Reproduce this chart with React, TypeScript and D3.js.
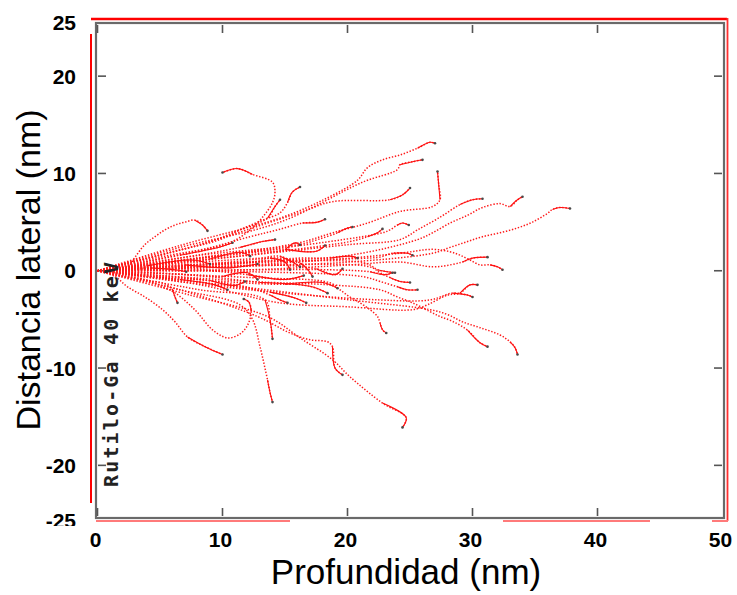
import React from "react";
import * as d3 from "d3";

type P = [number, number];

// Axis ticks
const xTicks = [0, 10, 20, 30, 40, 50];
const yTicks = [25, 20, 10, 0, -10, -20, -25];
const innerXTicks = [0, 10, 20, 30, 40];
const innerYTicks = [20, 10, 0, -10, -20];

// Ion trajectories (depth nm, lateral nm)
const trA: P[] = [[0,0],[6.6,2.6],[14.8,5.5],[18.4,7.5],[20.8,9.3],[21.6,10.6],[22.8,11.4],[24.2,11.9],[25.6,12.6],[26.6,13.2],[27.0,13.1]];
const trB: P[] = [[0,0],[6.6,2.4],[14.6,5.0],[21.2,9.1],[24.0,10.4],[24.2,10.9],[25.2,11.2],[26.0,11.4]];
const trC: P[] = [[0,0],[8.2,2.7],[16.2,6.0],[18.8,7.1],[23.4,7.3],[24.4,7.8],[25.0,8.5]];
const trD: P[] = [[0,0],[8.2,1.3],[16.2,2.9],[18.8,3.9],[21.6,4.9],[24.2,6.1],[26.8,6.6],[27.4,7.3],[27.3,8.8],[27.2,10.2]];
const trE: P[] = [[0,0],[12.2,1.6],[20.2,2.7],[24.2,3.2],[25.6,4.2],[27.4,5.5],[29.0,6.8],[30.0,7.3],[30.8,7.4]];
const trF: P[] = [[0,0],[12.2,0.9],[20.2,1.6],[25.6,3.2],[26.8,3.9],[28.2,4.9],[29.6,5.7],[30.8,6.5],[32.2,6.9],[33.0,6.6],[33.6,7.3],[34.0,7.6]];
const trG: P[] = [[0,0],[12.2,0.5],[20.2,0.9],[26.8,1.8],[28.2,2.4],[29.6,3.0],[30.8,3.5],[32.2,3.9],[33.6,4.4],[34.8,5.0],[36.0,5.9],[36.4,6.3],[37.0,6.5],[37.8,6.4]];
const trH: P[] = [[0,0],[5.0,1.4],[10.6,2.9],[12.2,4.2],[13.2,5.5],[14.0,7.0],[14.2,8.1],[14.0,9.1],[12.4,9.9],[11.2,10.5],[10.0,10.1]];
const trI: P[] = [[0,0],[5.0,1.6],[8.8,2.9],[10.8,3.9],[13.2,5.2],[14.6,5.95],[15.2,7.0],[15.6,8.1],[16.2,8.6]];
const trJ: P[] = [[0,0],[5.8,1.9],[9.8,3.2],[11.4,4.2],[13.6,5.4],[14.2,6.6],[14.6,7.3]];
const trK: P[] = [[0,0],[2.4,0.4],[3.0,1.4],[3.8,2.7],[4.6,3.5],[5.4,4.2],[6.2,4.7],[7.0,5.0],[7.8,5.2],[8.4,4.7],[8.8,4.1]];
const trL: P[] = [[0,0],[8.2,2.1],[12.2,3.5],[14.4,4.2],[16.4,4.9],[17.6,5.0],[18.2,5.3]];
const trM: P[] = [[0,0],[8.2,1.6],[16.2,2.7],[17.6,3.2],[19.2,3.9],[20.0,4.4],[20.4,4.5]];
const trN: P[] = [[0,0],[9.8,1.3],[20.2,3.0],[21.6,3.5],[22.4,3.9],[22.8,4.3]];
const trO: P[] = [[0,0],[12.2,1.9],[22.8,3.9],[23.4,4.2],[24.0,4.7],[24.4,4.9],[24.9,4.7]];
const trP: P[] = [[0,0],[12.2,0.6],[20.2,1.3],[24.2,1.8],[26.8,2.2],[28.2,1.95],[29.0,1.6],[29.8,1.1],[30.6,0.6],[31.4,0.6],[32.0,0.4],[32.4,0.1]];
const trQ: P[] = [[0,0],[12.2,0.1],[20.2,0.6],[24.2,0.9],[26.8,0.4],[28.2,0.6],[29.2,0.9],[30.0,1.3],[31.2,1.4]];
const trR: P[] = [[0,0],[12.2,0.8],[21.6,1.3],[22.6,1.4],[23.6,1.8],[24.8,1.8],[25.2,1.6]];
const trS: P[] = [[0,0],[12.2,0.9],[21.0,0.9],[21.8,0.6],[22.4,0.1],[23.2,-0.1],[23.8,-0.2]];
const trT: P[] = [[0,0],[12.2,0.5],[21.8,0.4],[22.6,-0.2],[23.4,-0.7],[24.2,-1.1],[25.0,-1.2]];
const trU: P[] = [[0,0],[12.2,-0.1],[21.2,-0.6],[22.6,-1.1],[24.0,-1.65],[24.8,-1.96],[25.6,-1.96]];
const trV: P[] = [[0,0],[8.2,-1.45],[14.6,-3.3],[20.0,-3.7],[25.2,-4.0],[26.4,-3.5],[28.0,-2.5],[29.0,-2.3],[29.8,-1.45],[30.4,-1.45]];
const trW: P[] = [[0,0],[12.2,-1.96],[22.6,-3.0],[26.6,-3.0],[28.4,-2.3],[29.6,-2.5],[30.0,-2.7]];
const trX: P[] = [[0,0],[12.2,-1.1],[18.6,-1.45],[22.6,-1.96],[24.0,-2.7],[25.2,-3.3],[26.6,-4.2],[27.4,-4.7],[28.4,-5.2],[29.6,-6.1],[30.6,-7.4],[31.2,-7.8]];
const trY: P[] = [[0,0],[12.2,-1.76],[20.2,-3.0],[26.6,-4.0],[28.0,-4.5],[29.2,-5.25],[30.6,-5.85],[32.2,-6.6],[33.0,-7.3],[33.4,-7.9],[33.6,-8.6]];
const trZ: P[] = [[0,0],[12.2,-0.7],[18.6,-1.24],[19.4,-1.96],[20.2,-2.7],[21.0,-3.3],[21.8,-4.0],[22.4,-4.7],[22.6,-5.35],[22.8,-6.07],[23.1,-6.4]];
const trAA: P[] = [[0,0],[6.6,-1.96],[12.8,-4.7],[15.4,-6.4],[17.0,-7.1],[18.4,-7.3],[18.8,-7.8],[19.0,-10.0],[19.6,-10.7]];
const trAB: P[] = [[0,0],[7.4,-2.5],[13.6,-4.7],[16.2,-6.9],[18.8,-9.15],[20.2,-10.9],[22.8,-13.6],[24.7,-15.1],[24.4,-16.1]];
const trAC: P[] = [[0,0],[6.6,-1.96],[11.4,-3.5],[12.4,-5.0],[13.0,-7.8],[13.6,-11.2],[13.8,-12.5],[14.0,-13.5]];
const trAD: P[] = [[0,0],[8.2,-1.96],[13.4,-3.0],[13.8,-5.0],[14.0,-7.0]];
const trAE: P[] = [[0,0],[1.4,-0.6],[2.4,-1.65],[3.8,-2.7],[5.2,-4.0],[6.2,-5.25],[7.2,-6.8],[8.6,-7.8],[10.0,-8.6]];
const trAF: P[] = [[0,0],[3.8,-0.9],[5.2,-1.65],[6.2,-2.27],[7.2,-3.3],[8.0,-4.3],[9.2,-6.07],[10.4,-6.9],[11.4,-6.5],[12.0,-5.6],[12.3,-4.2],[12.1,-3.2],[11.7,-2.9]];
const trAG: P[] = [[0,0],[3.4,-0.9],[5.4,-1.35],[6.0,-1.96],[6.2,-2.7],[6.4,-3.3]];
const trC1: P[] = [[0,0],[6.6,1.3],[11.4,2.4],[13.2,3.0],[14.2,3.2]];
const trC2: P[] = [[0,0],[8.2,1.3],[13.0,1.94],[15.0,2.15],[15.8,2.87],[16.2,2.66]];
const trC3: P[] = [[0,0],[8.2,0.5],[12.6,0.9],[13.8,1.3],[15.0,0.9],[15.4,0.1]];
const trC4: P[] = [[0,0],[10.6,0.9],[14.6,1.3],[16.2,0.8],[16.84,0.1],[17.2,-0.6]];
const trC5: P[] = [[0,0],[4.2,0.3],[6.2,0.1],[7.1,-0.1]];
const trC6: P[] = [[0,0],[8.2,-0.9],[12.2,-1.76],[13.8,-2.5],[14.6,-3.0],[15.2,-3.3]];
const trC7: P[] = [[0,0],[9.8,-1.45],[13.8,-2.2],[15.8,-2.8],[16.7,-3.3]];
const trC8: P[] = [[0,0],[6.6,-0.9],[9.4,-1.45],[10.4,-1.96]];
const trC9: P[] = [[0,0],[12.2,0.9],[16.2,1.3],[18.6,1.3],[20.2,1.5],[20.8,1.3]];
const trC10: P[] = [[0,0],[13.0,0.1],[18.6,0.1],[21.8,-0.1],[23.0,-0.4],[23.6,-0.2]];
const trC11: P[] = [[0,0],[8.2,0.9],[13.0,1.3],[14.6,1.5],[15.6,0.9],[16.2,0.4]];
const trC12: P[] = [[0,0],[6.6,1.6],[9.8,2.45],[10.8,2.87]];
const trC13: P[] = [[0,0],[5.0,0.8],[9.0,1.2],[11.5,1.9],[12.2,1.5]];
const trC14: P[] = [[0,0],[6.0,-0.3],[10.0,-0.6],[12.0,-0.2],[12.8,-0.9]];
const trC15: P[] = [[0,0],[7.0,0.2],[12.0,-0.4],[15.0,-0.9],[16.5,-0.5]];
const trC16: P[] = [[0,0],[8.0,-0.5],[13.0,-1.2],[17.0,-1.6],[18.4,-2.3]];
const trC17: P[] = [[0,0],[6.0,1.0],[11.0,1.8],[15.0,2.2],[17.5,2.0],[18.2,2.6]];
const trC18: P[] = [[0,0],[5.0,-0.7],[9.0,-1.0],[11.0,-1.5],[11.8,-1.1]];
const trC19: P[] = [[0,0],[9.0,0.3],[14.0,0.6],[17.5,0.2],[19.0,-0.4],[19.6,0.2]];
const trC20: P[] = [[0,0],[7.0,0.6],[10.5,0.3],[12.8,0.7]];
const trC21: P[] = [[0,0],[10.0,-1.1],[15.0,-1.4],[18.0,-1.2],[19.2,-1.8]];
const trC22: P[] = [[0,0],[4.0,0.5],[7.5,1.1],[9.0,0.7]];

const trajectories: P[][] = [
  trA, trB, trC, trD, trE, trF, trG, trH, trI, trJ, trK, trL, trM, trN, trO,
  trP, trQ, trR, trS, trT, trU, trV, trW, trX, trY, trZ,
  trAA, trAB, trAC, trAD, trAE, trAF, trAG,
  trC1, trC2, trC3, trC4, trC5, trC6, trC7, trC8, trC9, trC10, trC11, trC12,
  trC13, trC14, trC15, trC16, trC17, trC18, trC19, trC20, trC21, trC22,
];

const W = 737;
const H = 595;

export default function App() {
  const x = d3.scaleLinear().domain([0, 50]).range([97.5, 722.5]);
  const y = d3.scaleLinear().domain([-25, 25]).range([514, 27.5]);
  const line = d3
    .line<P>()
    .x((d) => x(d[0]))
    .y((d) => y(d[1]))
    .curve(d3.curveCatmullRom.alpha(0.5));

  const frame = { l: 96, t: 23, r: 724, b: 518 };
  const bold = "'Liberation Sans', Arial, sans-serif";

  const yLabelPos = (v: number) => (v === 25 ? y(v) - 5 : v === -25 ? y(v) + 6 : y(v));

  return (
    <svg
      width={W}
      height={H}
      style={{ position: "absolute", left: 0, top: 0, background: "#fff" }}
      fontFamily={bold}
    >
      <rect x={0} y={0} width={W} height={H} fill="#fff" />

      {/* red outer border pieces */}
      <line x1={91} y1={19} x2={727} y2={19} stroke="#ff0000" strokeWidth={2.5} />
      <line x1={91} y1={34} x2={91} y2={503} stroke="#ff0000" strokeWidth={2} />
      <line x1={727.5} y1={18} x2={727.5} y2={521} stroke="#ff3030" strokeWidth={1.8} />
      <line x1={96} y1={521} x2={290} y2={521} stroke="#ff7a7a" strokeWidth={2} />
      <line x1={503} y1={521} x2={650} y2={521} stroke="#ff7a7a" strokeWidth={2} />
      <line x1={712} y1={521} x2={728} y2={521} stroke="#ff7a7a" strokeWidth={2} />

      {/* plot frame */}
      <rect
        x={frame.l}
        y={frame.t}
        width={frame.r - frame.l}
        height={frame.b - frame.t}
        fill="none"
        stroke="#6a6a6a"
        strokeWidth={2.2}
      />

      {/* inner ticks */}
      {innerXTicks.map((v) => (
        <g key={"xt" + v} stroke="#555" strokeWidth={1.6}>
          <line x1={x(v)} x2={x(v)} y1={frame.t + 2} y2={frame.t + 10} />
          <line x1={x(v)} x2={x(v)} y1={frame.b - 2} y2={frame.b - 10} />
        </g>
      ))}
      {innerYTicks.map((v) => (
        <g key={"yt" + v} stroke="#555" strokeWidth={1.6}>
          <line x1={frame.l + 2} x2={frame.l + 10} y1={y(v)} y2={y(v)} />
          <line x1={frame.r - 2} x2={frame.r - 10} y1={y(v)} y2={y(v)} />
        </g>
      ))}

      {/* trajectories */}
      <g fill="none" strokeLinecap="butt" strokeLinejoin="round">
        {trajectories.map((t, i) => (
          <g key={"tr" + i}>
            <path d={line(t) || ""} stroke="#ff1a1a" strokeWidth={1.5} strokeDasharray="1.4 1.7" />
            <path d={line(t.slice(-3)) || ""} stroke="#ff1010" strokeWidth={1.1} />
          </g>
        ))}
      </g>
      <g fill="#4a4a4a">
        {trajectories.map((t, i) => {
          const e = t[t.length - 1];
          return <circle key={"end" + i} cx={x(e[0])} cy={y(e[1])} r={1.3} />;
        })}
      </g>

      {/* rotated label inside plot */}
      <text
        transform="translate(118,487) rotate(-90)"
        fontFamily="'DejaVu Sans Mono', monospace"
        fontWeight="bold"
        fontSize={20}
        fill="#222"
        textLength={225}
        lengthAdjust="spacing"
      >
        Rutilo-Ga 40 keV
      </text>

      {/* y tick labels */}
      {yTicks.map((v) => (
        <text
          key={"yl" + v}
          x={76}
          y={yLabelPos(v)}
          dy="0.36em"
          textAnchor="end"
          fontWeight="bold"
          fontSize={21}
          fill="#000"
        >
          {v}
        </text>
      ))}
      <rect x={40} y={526} width={50} height={10} fill="#fff" />

      {/* x tick labels */}
      {xTicks.map((v) => (
        <text
          key={"xl" + v}
          x={x(v) - 2}
          y={547}
          textAnchor="middle"
          fontWeight="bold"
          fontSize={21}
          fill="#000"
        >
          {v}
        </text>
      ))}

      {/* axis titles */}
      <text x={406} y={584} textAnchor="middle" fontSize={35} fill="#000">
        Profundidad (nm)
      </text>
      <text
        transform="translate(40,270) rotate(-90)"
        textAnchor="middle"
        fontSize={34}
        fill="#000"
      >
        Distancia lateral (nm)
      </text>
    </svg>
  );
}
